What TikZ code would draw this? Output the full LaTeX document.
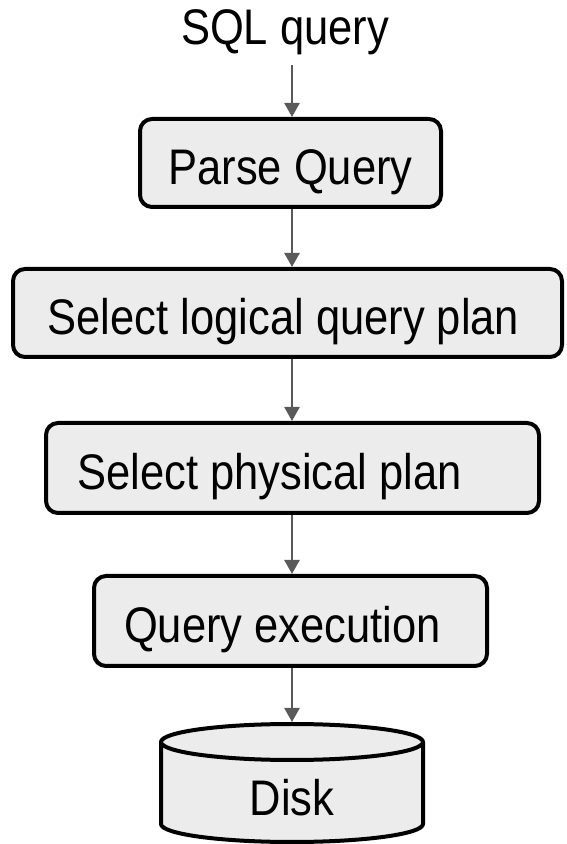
\documentclass[tikz,border=0pt]{standalone}
\usepackage{fontspec}
\setmainfont[FakeStretch=0.87]{Liberation Sans}
\usetikzlibrary{arrows.meta}
\definecolor{boxfill}{RGB}{236,236,236}
\definecolor{arrowgray}{RGB}{90,90,90}
\begin{document}
\begin{tikzpicture}[x=1pt,y=1pt,
  label text/.style={font=\fontsize{50}{60}\selectfont, text height=36pt, text depth=0pt, inner sep=0pt},
  stage/.style={label text, text height=44pt, draw=black, line width=4pt, fill=boxfill, rounded corners=12pt},
  flow/.style={draw=arrowgray, line width=2.5pt, -{Triangle[width=15pt,length=14pt]}},
  drum/.style={draw=black, line width=4pt, fill=boxfill, line join=round}]
\useasboundingbox (0,0) rectangle (566,844);

% input label
\node[font=\fontsize{50}{60}\selectfont, anchor=base, inner sep=0pt] (sql) at (285,799) {SQL query};
\coordinate (axis) at (292,0);
\coordinate (sqlfoot) at (292,779);

% processing stages (trailing space nudges the label a little to the left)
\node[stage, minimum width=301pt, minimum height=88pt] (parse) at (290.5,681) {Parse Query};
\node[stage, minimum width=549pt, minimum height=88pt] (logical) at (287.5,531) {Select logical query plan\hspace*{8pt}};
\node[stage, minimum width=493pt, minimum height=90pt] (physical) at (292.5,376) {Select physical plan\hspace*{46pt}};
\node[stage, minimum width=393pt, minimum height=90pt] (exec) at (290.5,223) {Query execution\hspace*{16pt}};

% disk cylinder
\filldraw[drum] (161,102) -- (161,20)
  arc[start angle=180, end angle=360, x radius=131, y radius=18]
  -- (423,102)
  arc[start angle=0, end angle=180, x radius=131, y radius=18] -- cycle;
\draw[drum, fill=none] (161,102) arc[start angle=180, end angle=360, x radius=131, y radius=18];
\node[label text] (disk) at (292,46.5) {Disk};
\coordinate (disktop) at (292,122);

% connectors
\draw[flow] (sqlfoot) -- (parse.north -| axis);
\draw[flow] (parse.south -| axis) -- (logical.north -| axis);
\draw[flow] (logical.south -| axis) -- (physical.north -| axis);
\draw[flow] (physical.south -| axis) -- (exec.north -| axis);
\draw[flow] (exec.south -| axis) -- (disktop);
\end{tikzpicture}
\end{document}
